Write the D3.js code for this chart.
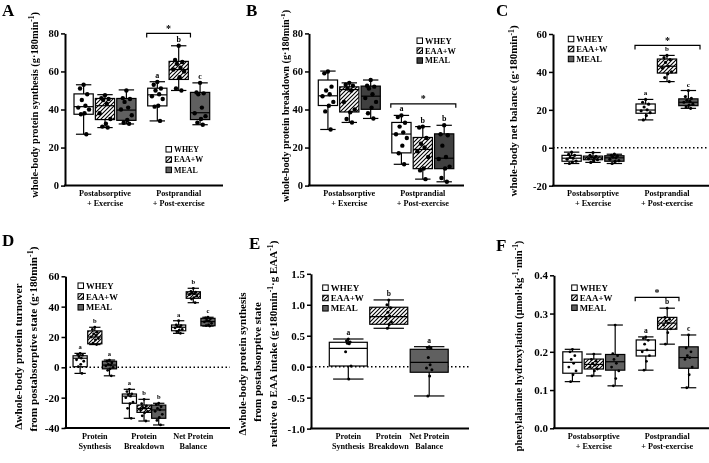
<!DOCTYPE html>
<html><head><meta charset="utf-8">
<script src="https://cdn.jsdelivr.net/npm/d3@7"></script>
<style>
body{margin:0;background:#fff}
svg{display:block;will-change:transform}
text{font-family:"Liberation Serif","Times New Roman",serif;font-weight:bold;fill:#000}
</style>
</head><body>
<svg id="c" width="709" height="463"></svg>
<script>
// ---------------- DATA ----------------
const treatments = ["WHEY", "EAA+W", "MEAL"];
const phases = ["Postabsorptive|+ Exercise", "Postprandial|+ Post-exercise"];
const components = ["Protein|Synthesis", "Protein|Breakdown", "Net Protein|Balance"];

// box stats [min, q1, median, q3, max]; order: phase x treatment
const synthesisStats = [
  [27, 37.5, 41.5, 48.2, 53], [30.5, 34.7, 42, 45.8, 47.8], [32.4, 34.3, 39.7, 45.8, 50.3],
  [34, 41.9, 47.7, 51.2, 54.6], [50, 55.8, 61, 65.3, 73.5], [32, 34.7, 38.3, 49, 54]
];
const synthesisPoints = [
  [53, 51, 48, 45, 42, 41, 40, 38, 37.5, 27],
  [47.5, 46, 45.5, 45, 43, 38, 35, 32.5, 31, 30.5],
  [50, 46, 45.5, 44, 41, 40, 37, 34.5, 33, 32.5],
  [54.5, 53, 51, 50, 48, 47, 45.5, 42, 41.5, 34],
  [73.5, 66, 65, 64, 62, 61, 60, 57, 51, 50],
  [54, 49, 48.5, 48, 41, 38, 36.5, 35, 33, 32]
];
const synthesisLetters = ["", "", "", "a", "b", "c"];

const breakdownStats = [
  [29.5, 42.1, 47.2, 55.5, 60.2], [33.2, 38.7, 50.5, 51.9, 54], [35.3, 40.1, 47, 52.3, 55.5],
  [11.2, 17.2, 27.1, 33.2, 36.9], [3.4, 8.9, 19, 25.3, 31], [2, 8.9, 14.4, 27.2, 31.7]
];
const breakdownPoints = [
  [60, 59, 52, 50, 48, 47, 44, 42, 39, 29.5],
  [54, 53, 52.5, 51, 50, 44, 40, 38.5, 35, 33.2],
  [55.5, 52.5, 52, 51, 48, 46, 44, 41, 38, 35.3],
  [36.9, 36, 33, 31, 28, 27, 25, 21, 17, 11.2],
  [31, 30.5, 25, 22, 20, 18, 15, 9, 8, 3.4],
  [31.7, 27, 26.5, 21, 15, 14, 10, 9, 4, 2]
];
const breakdownLetters = ["", "", "", "a", "b", "b"];

const netBalanceStats = [
  [-8.3, -7.1, -5.5, -4, -2.3], [-7.7, -6.3, -5.3, -4.4, -2.5], [-8.3, -7.1, -5.3, -4.2, -3.4],
  [14.7, 18.2, 19.9, 23.1, 25.5], [34.9, 39.4, 43, 46.8, 48.7], [20.8, 22.2, 24, 25.8, 30.2]
];
const netBalancePoints = [
  [-2.3, -3.5, -4, -5, -5.5, -6, -7, -7.5, -8.3],
  [-2.5, -4, -4.5, -5, -5.3, -5.8, -6.3, -7, -7.7],
  [-3.4, -4, -4.3, -5, -5.3, -6, -6.8, -7.2, -8.3],
  [25.5, 24, 23, 21.5, 20, 19.5, 18.5, 17, 14.7],
  [48.7, 47.5, 46.5, 45, 43, 42, 40, 39, 37, 34.9],
  [30.2, 27, 26, 25, 24.5, 24, 23, 22.5, 21.5, 20.8]
];
const netBalanceLetters = ["", "", "", "a", "b", "c"];

// order: component x treatment
const deltaStats = [
  [-4, 0.4, 6, 7.6, 9.2], [15, 15.5, 20, 24, 26.4], [-5.6, -1, 1.5, 4, 4.8],
  [-33.6, -23.7, -19, -17.6, -14.5], [-35.4, -29.7, -27.1, -24.9, -21.1], [-38, -33.6, -28.1, -24.9, -23.7],
  [22.4, 24.1, 26.4, 27.9, 30.7], [42.6, 45.5, 48.3, 49.8, 52.1], [27.2, 27.4, 30.1, 32.3, 33]
];
const deltaPoints = [
  [9.2, 8.5, 8, 7, 6, 5, 4, 2, 0.5, -4],
  [26.4, 25, 23, 22, 21, 20, 19, 18, 16, 15],
  [4.8, 4, 3, 2, 1.5, 1, 0, -1, -2, -5.6],
  [-14.5, -16, -17.5, -18, -19, -20, -23, -24, -27, -33.6],
  [-21.1, -24, -25.5, -26.5, -27, -28, -29, -30, -32, -35.4],
  [-23.7, -24.5, -26, -27, -28, -29, -31, -33, -35, -38],
  [30.7, 28, 27.5, 27, 26.5, 26, 25, 24.5, 23.5, 22.4],
  [52.1, 50, 49.5, 49, 48.5, 48, 47, 46, 45, 42.6],
  [33, 32.5, 32, 31, 30.5, 30, 29, 28, 27.5, 27.2]
];
const deltaLetters = ["a", "b", "a", "a", "b", "b", "a", "b", "c"];

// panel E: one box per component (WHEY, EAA+W, MEAL)
const relativeStats = [
  [-0.2, 0.011, 0.297, 0.394, 0.447], [0.62, 0.685, 0.808, 0.96, 1.078], [-0.473, -0.09, 0.071, 0.281, 0.323]
];
const relativePoints = [
  [0.447, 0.42, 0.4, 0.38, 0.37, 0.24, 0.01, -0.2],
  [1.078, 1.0, 0.95, 0.88, 0.82, 0.78, 0.72, 0.68, 0.62],
  [0.323, 0.31, 0.3, 0.15, 0.03, -0.02, -0.05, -0.15, -0.473]
];
const relativeLetters = ["a", "b", "a"];

const hydroxStats = [
  [0.122, 0.144, 0.1725, 0.2, 0.2065], [0.137, 0.155, 0.167, 0.181, 0.194], [0.111, 0.152, 0.174, 0.193, 0.27],
  [0.152, 0.189, 0.204, 0.231, 0.239], [0.22, 0.259, 0.275, 0.29, 0.314], [0.106, 0.157, 0.185, 0.213, 0.244]
];
const hydroxPoints = [
  [0.2065, 0.2, 0.19, 0.18, 0.17, 0.16, 0.15, 0.14, 0.122],
  [0.194, 0.18, 0.175, 0.17, 0.165, 0.16, 0.155, 0.15, 0.137],
  [0.27, 0.195, 0.19, 0.18, 0.17, 0.16, 0.15, 0.13, 0.111],
  [0.239, 0.235, 0.23, 0.22, 0.205, 0.2, 0.19, 0.175, 0.152],
  [0.314, 0.29, 0.285, 0.28, 0.275, 0.27, 0.26, 0.25, 0.22],
  [0.244, 0.21, 0.2, 0.19, 0.185, 0.18, 0.16, 0.14, 0.106]
];
const hydroxLetters = ["", "", "", "a", "b", "c"];

const ticksAB = [0, 20, 40, 60, 80];
const ticksC = [-20, 0, 20, 40, 60];
const ticksD = [-40, -20, 0, 20, 40, 60];
const ticksE = [-1, -0.5, 0, 0.5, 1, 1.5];
const ticksF = [0, 0.1, 0.2, 0.3, 0.4];

// ---------------- DRAW ----------------
const svg = d3.select("#c");
const defs = svg.append("defs");
const pat = defs.append("pattern").attr("id", "hatch").attr("patternUnits", "userSpaceOnUse")
  .attr("width", 4).attr("height", 4);
pat.append("rect").attr("width", 4).attr("height", 4).attr("fill", "#fff");
pat.append("path").attr("d", "M-1,1 l2,-2 M0,4 l4,-4 M3,5 l2,-2")
  .attr("stroke", "#000").attr("stroke-width", 1.1);

const intFmt = d => String(d).replace("−", "-");
const dec1 = d => d3.format(".1f")(d).replace("−", "-");

function fillFor(t, meal) {
  return t === "WHEY" ? "#fff" : t === "EAA+W" ? "url(#hatch)" : meal;
}

function addRich(sel, str) {
  const parts = str.split(/(\^\{[^}]*\})/);
  let up = false;
  parts.forEach(p => {
    if (!p) return;
    if (p.startsWith("^{")) {
      sel.append("tspan").attr("dy", -3.8).attr("font-size", "70%").text(p.slice(2, -1));
      up = true;
    } else {
      const t = sel.append("tspan").text(p);
      if (up) { t.attr("dy", 3.8); up = false; }
    }
  });
}

const jitPattern = [0, -0.6, 0.6, -0.3, 0.3, -0.9, 0.9, 0.15, -0.45, 0.45];

function drawPanel(p) {
  const g = svg.append("g");
  const y = d3.scaleLinear().domain(p.domain).range([p.yb, p.yt]);
  const xc = d3.scalePoint().domain(p.cats).range(p.catRange);
  const xt = d3.scaleBand().domain(treatments).range([-p.span / 2, p.span / 2]).paddingInner(p.pad);
  const bw = p.single ? p.boxW : xt.bandwidth();
  const cx = (c, t) => xc(c) + (p.single ? 0 : xt(t) + xt.bandwidth() / 2);
  const cap = bw * 0.4;

  if (p.zero) {
    g.append("line").attr("x1", p.x0).attr("x2", p.x1).attr("y1", y(0)).attr("y2", y(0))
      .attr("stroke", "#000").attr("stroke-width", 1.5).attr("stroke-dasharray", "1.5,2.5");
  }

  const items = [];
  if (p.single) {
    p.cats.forEach((c, i) => items.push({ c, t: treatments[i], i }));
  } else {
    p.cats.forEach((c, ci) => treatments.forEach((t, ti) => items.push({ c, t, i: ci * 3 + ti })));
  }

  items.forEach(({ c, t, i }) => {
    const [mn, q1, md, q3, mx] = p.stats[i];
    const x = cx(c, t);
    const bg = g.append("g").attr("stroke", "#000").attr("stroke-width", 1.2);
    bg.append("line").attr("x1", x).attr("x2", x).attr("y1", y(mn)).attr("y2", y(mx));
    bg.append("line").attr("x1", x - cap).attr("x2", x + cap).attr("y1", y(mn)).attr("y2", y(mn));
    bg.append("line").attr("x1", x - cap).attr("x2", x + cap).attr("y1", y(mx)).attr("y2", y(mx));
    bg.append("rect").attr("x", x - bw / 2).attr("y", y(q3)).attr("width", bw)
      .attr("height", y(q1) - y(q3)).attr("fill", fillFor(t, p.meal));
    bg.append("line").attr("x1", x - bw / 2).attr("x2", x + bw / 2).attr("y1", y(md)).attr("y2", y(md));
    p.points[i].forEach((v, k) => {
      g.append("circle").attr("cx", x + jitPattern[k % jitPattern.length] * p.jit).attr("cy", y(v))
        .attr("r", p.pr).attr("fill", "#000");
    });
    if (p.letters[i]) {
      g.append("text").attr("x", x).attr("y", y(mx) - 4).attr("text-anchor", "middle")
        .attr("fill", "#000").attr("font-size", p.letterFs).text(p.letters[i]);
    }
  });

  // bracket
  if (p.bracket) {
    const b = p.bracket;
    const c = p.cats[b.cat];
    const xa = cx(c, treatments[b.from]) - bw / 2 - 1;
    const xb = b.toEdge === "left" ? cx(c, treatments[b.to]) - bw / 2 : cx(c, treatments[b.to]) + bw / 2 + 2;
    const yb = y(b.v);
    g.append("path").attr("d", `M${xa},${yb + 4}V${yb}H${xb}V${yb + 4}`)
      .attr("fill", "none").attr("stroke", "#000").attr("stroke-width", 1.2);
    g.append("text").attr("x", (xa + xb) / 2).attr("y", yb - 1.5).attr("text-anchor", "middle")
      .attr("font-size", 10).text("*");
  }

  // axes
  const ay = g.append("g").attr("transform", `translate(${p.x0},0)`)
    .call(d3.axisLeft(y).tickValues(p.ticks).tickFormat(p.fmt).tickSize(4).tickSizeOuter(0).tickPadding(2));
  ay.attr("font-family", null).attr("font-size", null);
  ay.select(".domain").attr("stroke-width", 2);
  ay.selectAll(".tick line").attr("stroke-width", 1.5);
  ay.selectAll(".tick text").attr("font-size", p.tickFs).attr("fill", "#000");
  g.append("line").attr("x1", p.x0 - 1).attr("x2", p.x1).attr("y1", p.yb).attr("y2", p.yb)
    .attr("stroke", "#000").attr("stroke-width", 2);

  // category labels
  p.cats.forEach(c => {
    const lines = c.split("|");
    const t = g.append("text").attr("y", p.yb + 10.5).attr("text-anchor", "middle").attr("font-size", p.catFs);
    lines.forEach((l, k) => t.append("tspan").attr("x", xc(c)).attr("dy", k ? 10 : 0).text(l));
  });

  // legend
  treatments.forEach((t, k) => {
    const ly = p.legend.y + k * p.legend.dy;
    g.append("rect").attr("x", p.legend.x).attr("y", ly - 2.75).attr("width", 5.5).attr("height", 5.5)
      .attr("fill", fillFor(t, p.meal)).attr("stroke", "#000").attr("stroke-width", 1);
    g.append("text").attr("x", p.legend.x + 8).attr("y", ly).attr("dy", "0.35em")
      .attr("font-size", p.legend.fs).text(t);
  });

  // titles
  p.titles.forEach(tt => {
    const t = g.append("text").attr("transform", `translate(${tt.x},${tt.y}) rotate(-90)`)
      .attr("text-anchor", "middle").attr("dy", "0.35em").attr("font-size", tt.fs);
    addRich(t, tt.text);
  });

  // panel letter
  g.append("text").attr("x", p.label.x).attr("y", p.label.y).attr("font-size", 17).text(p.label.t);
}

const unit = "(g·180min^{-1})";

drawPanel({
  x0: 65, x1: 223, yb: 185.6, yt: 33.4, domain: [0, 80], ticks: ticksAB, fmt: intFmt,
  cats: phases, catRange: [105, 178.7], span: 62, pad: 0.1,
  stats: synthesisStats, points: synthesisPoints, letters: synthesisLetters,
  bracket: { cat: 1, from: 0, to: 2, toEdge: "left", v: 80 },
  legend: { x: 166, y: 149.3, dy: 10.3, fs: 7.9 },
  titles: [{ text: "whole-body protein synthesis " + unit, x: 34, y: 105, fs: 10.4 }],
  label: { t: "A", x: 2, y: 16 }, meal: "#606060", pr: 2.2, jit: 6, tickFs: 10.5, catFs: 8.2, letterFs: 8
});

drawPanel({
  x0: 309, x1: 464, yb: 185.6, yt: 33.4, domain: [0, 80], ticks: ticksAB, fmt: intFmt,
  cats: phases, catRange: [349.3, 422.8], span: 62, pad: 0.1,
  stats: breakdownStats, points: breakdownPoints, letters: breakdownLetters,
  bracket: { cat: 1, from: 0, to: 2, toEdge: "right", v: 43 },
  legend: { x: 417, y: 40.7, dy: 9.9, fs: 8.4 },
  titles: [{ text: "whole-body protein breakdown " + unit, x: 285, y: 106, fs: 10.2 }],
  label: { t: "B", x: 246, y: 16 }, meal: "#404040", pr: 2.2, jit: 6, tickFs: 10.5, catFs: 8.2, letterFs: 8
});

drawPanel({
  x0: 553, x1: 709, yb: 185.7, yt: 34, domain: [-20, 60], ticks: ticksC, fmt: intFmt,
  cats: phases, catRange: [593, 667], span: 62, pad: 0.1, zero: true,
  stats: netBalanceStats, points: netBalancePoints, letters: netBalanceLetters,
  bracket: { cat: 1, from: 0, to: 2, toEdge: "right", v: 54 },
  legend: { x: 568.3, y: 39, dy: 10, fs: 8.5 },
  titles: [{ text: "whole-body net balance " + unit, x: 513.5, y: 111, fs: 11 }],
  label: { t: "C", x: 496, y: 16 }, meal: "#606060", pr: 1.6, jit: 5, tickFs: 10.5, catFs: 8.2, letterFs: 7
});

drawPanel({
  x0: 65.5, x1: 230, yb: 428, yt: 276.3, domain: [-40, 60], ticks: ticksD, fmt: intFmt,
  cats: components, catRange: [94.8, 193.3], span: 43.5, pad: 0.034, zero: true,
  stats: deltaStats, points: deltaPoints, letters: deltaLetters,
  legend: { x: 78, y: 285.7, dy: 10.8, fs: 8.7 },
  titles: [
    { text: "Δwhole-body protein turnover", x: 18.3, y: 356.7, fs: 11.3 },
    { text: "from postabsorptive state " + unit, x: 33.3, y: 339, fs: 11.3 }
  ],
  label: { t: "D", x: 2, y: 246 }, meal: "#606060", pr: 1.4, jit: 4, tickFs: 11, catFs: 8.2, letterFs: 6.5
});

drawPanel({
  x0: 311, x1: 469, yb: 428.6, yt: 273.8, domain: [-1, 1.5], ticks: ticksE, fmt: dec1,
  cats: components, catRange: [348.3, 429.2], single: true, boxW: 38, span: 0, pad: 0, zero: true,
  stats: relativeStats, points: relativePoints, letters: relativeLetters,
  legend: { x: 322.7, y: 287.7, dy: 10.3, fs: 9 },
  titles: [
    { text: "Δwhole-body protein synthesis", x: 241.7, y: 364, fs: 11 },
    { text: "from postabsorptive state", x: 256.7, y: 362, fs: 11 },
    { text: "relative to EAA intake (g·180min^{-1}·g EAA^{-1})", x: 273.3, y: 344, fs: 11 }
  ],
  label: { t: "E", x: 249, y: 249 }, meal: "#606060", pr: 1.5, jit: 3, tickFs: 11, catFs: 8.2, letterFs: 7.5
});

drawPanel({
  x0: 554, x1: 709, yb: 428.3, yt: 275.3, domain: [0, 0.4], ticks: ticksF, fmt: dec1,
  cats: phases, catRange: [593.8, 667.2], span: 62, pad: 0.1,
  stats: hydroxStats, points: hydroxPoints, letters: hydroxLetters,
  bracket: { cat: 1, from: 0, to: 2, toEdge: "left", v: 0.3425 },
  legend: { x: 571.7, y: 287.7, dy: 10, fs: 8.9 },
  titles: [{ text: "phenylalanine hydroxylation (µmol·kg^{-1}·min^{-1})", x: 518, y: 346, fs: 10.6 }],
  label: { t: "F", x: 496, y: 251 }, meal: "#606060", pr: 1.4, jit: 4, tickFs: 11, catFs: 8.2, letterFs: 7.5
});
</script>
</body></html>
